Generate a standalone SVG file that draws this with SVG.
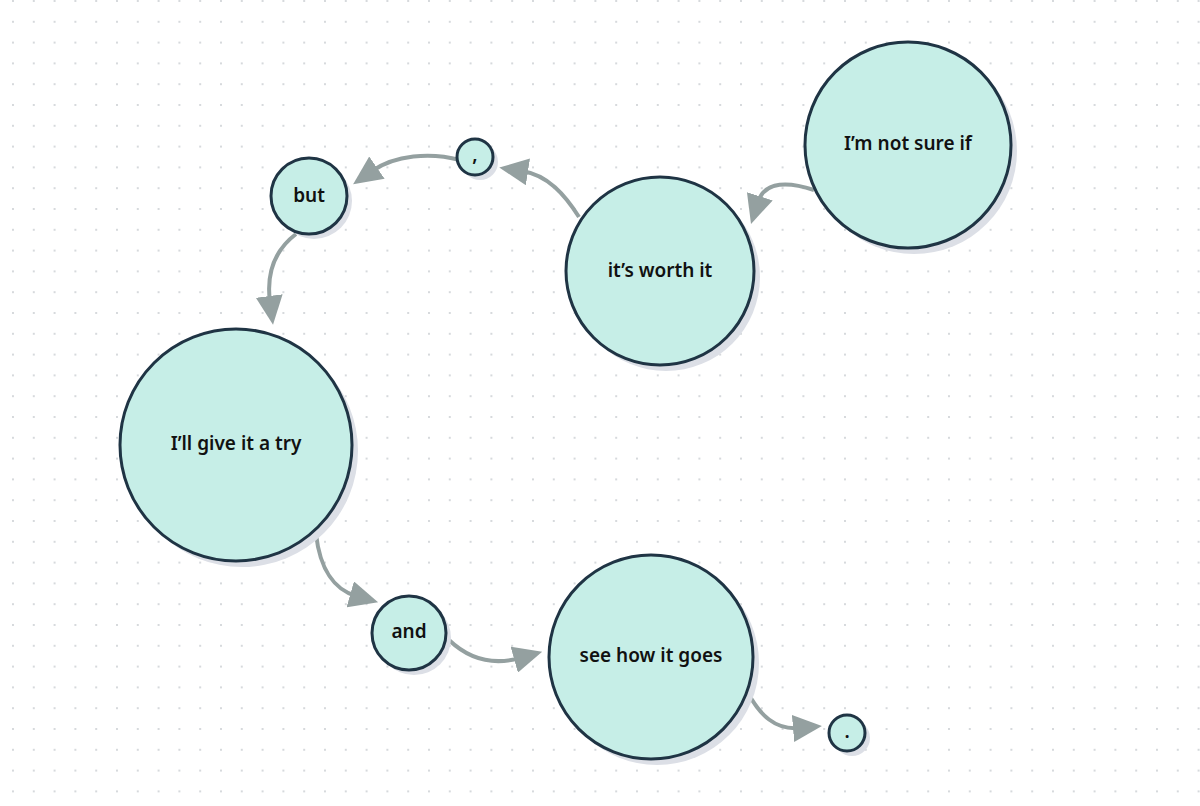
<svg xmlns="http://www.w3.org/2000/svg" width="1200" height="806" viewBox="0 0 1200 806">
<defs>
<pattern id="dots" x="12" y="0" width="20.8" height="20.8" patternUnits="userSpaceOnUse">
<circle cx="1" cy="1" r="1" fill="#c9ccd0"/>
</pattern>
<marker id="arr" markerUnits="userSpaceOnUse" viewBox="0 0 29 27" markerWidth="29" markerHeight="27" refX="6" refY="13.5" orient="auto">
<path d="M0,0 L29,13.5 L0,27 Z" fill="#94a0a0"/>
</marker>
</defs>
<style>
.sh{fill:#dcdfe6}
.nd{fill:#c6eee7;stroke:#1f3444;stroke-width:3}
.tx{font-family:"Noto Sans","Liberation Sans",sans-serif;font-size:19px;font-weight:600;fill:#111;text-anchor:middle;dominant-baseline:central}
.ed{fill:none;stroke:#94a0a0;stroke-width:4;marker-end:url(#arr)}
</style>
<rect width="1200" height="806" fill="#ffffff"/>
<rect width="1200" height="806" fill="url(#dots)"/>
<g id="connectors">
<path class="ed" d="M814,190 C790,182 765,180 758,202"/>
<path class="ed" d="M579,217 C565,195 548,175 522,171"/>
<path class="ed" d="M460,160 C430,152 395,155 372,171"/>
<path class="ed" d="M296,234 C275,250 266,272 270,302"/>
<path class="ed" d="M316,534 C320,570 335,590 356,596"/>
<path class="ed" d="M449,640 C470,660 495,665 520,658"/>
<path class="ed" d="M748,693 C760,715 775,730 799,728"/>
</g>
<g id="n-notsure">
<circle class="sh" cx="914" cy="151" r="103"/>
<circle class="nd" cx="908" cy="145" r="103"/>
<text class="tx" x="908" y="143">I’m not sure if</text>
</g>
<g id="n-worth">
<circle class="sh" cx="666" cy="277" r="94"/>
<circle class="nd" cx="660" cy="271" r="94"/>
<text class="tx" x="660" y="270">it’s worth it</text>
</g>
<g id="n-comma">
<circle class="sh" cx="480" cy="162" r="18"/>
<circle class="nd" cx="475" cy="157" r="18"/>
<text class="tx" x="475" y="154">,</text>
</g>
<g id="n-but">
<circle class="sh" cx="314" cy="201" r="38"/>
<circle class="nd" cx="309" cy="196" r="38"/>
<text class="tx" x="309" y="195">but</text>
</g>
<g id="n-try">
<circle class="sh" cx="242" cy="451" r="116"/>
<circle class="nd" cx="236" cy="445" r="116"/>
<text class="tx" x="236" y="443">I’ll give it a try</text>
</g>
<g id="n-and">
<circle class="sh" cx="414" cy="638" r="37"/>
<circle class="nd" cx="409" cy="633" r="37"/>
<text class="tx" x="409" y="631">and</text>
</g>
<g id="n-see">
<circle class="sh" cx="657" cy="663" r="102"/>
<circle class="nd" cx="651" cy="657" r="102"/>
<text class="tx" x="651" y="655">see how it goes</text>
</g>
<g id="n-period">
<circle class="sh" cx="852" cy="738" r="18"/>
<circle class="nd" cx="847" cy="733" r="18"/>
<text class="tx" x="847" y="731">.</text>
</g>
</svg>
